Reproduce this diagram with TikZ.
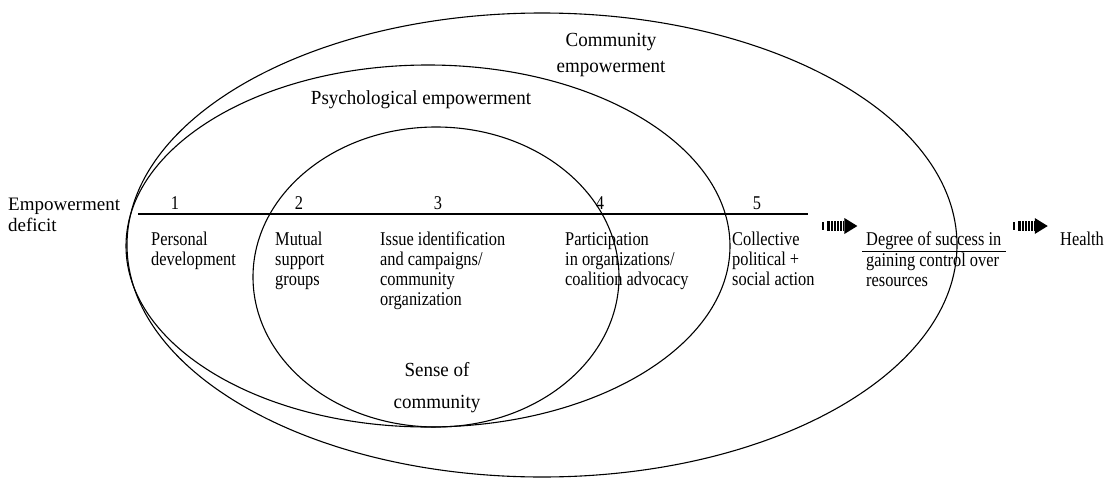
\documentclass[tikz,border=0pt]{standalone}
\usepackage{fontspec}
\setmainfont{Liberation Serif}
\newfontfamily\narrowserif[FakeStretch=0.84]{Liberation Serif}
\newfontfamily\labelserif[FakeStretch=0.95]{Liberation Serif}
\begin{document}
\begin{tikzpicture}[x=1pt,y=-1pt,
  ring/.style={line width=1.1pt},
  lbl/.style={font=\labelserif\fontsize{20}{26}\selectfont, inner sep=0pt, align=center},
  txt/.style={font=\narrowserif\fontsize{19.5}{20}\selectfont, align=left, anchor=north west, inner sep=0pt},
  num/.style={font=\narrowserif\fontsize{19.5}{20}\selectfont, inner sep=0pt},
  barrow/.pic={
    \fill (-18,-4) rectangle (-16,4);
    \fill (-13,-5) rectangle (4,5);
    \foreach \s in {-10,-7,-4,-1,2}
      \draw[white, line width=0.5pt] (\s,-5) -- (\s,5);
    \fill (4,-8) -- (17,0) -- (4,8) -- cycle;
  },
]
\useasboundingbox (0,0) rectangle (1106,482);

% nested empowerment regions
\draw[ring] (542,245) ellipse [x radius=415pt, y radius=232pt];
\draw[ring] (428,246) ellipse [x radius=302pt, y radius=181pt];
\draw[ring] (436,277) ellipse [x radius=183pt, y radius=150pt];

% region labels
\node[lbl] (comm) at (611,55) {Community\\empowerment};
\node[lbl] (psych) at (421,100) {Psychological empowerment};
\node[lbl, font=\labelserif\fontsize{20}{32}\selectfont] (sense) at (437,388) {Sense of\\community};

% starting point and the continuum line
\node[lbl, align=left, anchor=west, font=\fontsize{19}{21}\selectfont] (deficit) at (8,215) {Empowerment\\deficit};
\coordinate (lstart) at (138,214);
\coordinate (lend) at (808,214);
\draw[line width=1.3pt] (lstart) -- (lend);

% stage numbers
\node[num] (n1) at (175,203) {1};
\node[num] (n2) at (299,203) {2};
\node[num] (n3) at (438,203) {3};
\node[num] (n4) at (600,203) {4};
\node[num] (n5) at (757,203) {5};

% stages
\node[txt] (s1) at (151,232) {Personal\\development};
\node[txt] (s2) at (275,232) {Mutual\\support\\groups};
\node[txt] (s3) at (380,232) {Issue identification\\and campaigns/\\community\\organization};
\node[txt] (s4) at (565,232) {Participation\\in organizations/\\coalition advocacy};
\node[txt] (s5) at (732,232) {Collective\\political +\\social action};

% outcomes
\node[txt] (deg) at (866,232) {Degree of success in};
\draw[line width=1pt] ([shift={(-4,1)}]deg.south west) -- ([shift={(5,1)}]deg.south east);
\node[txt] (gain) at (866,253) {gaining control over\\resources};
\node[txt] (health) at (1060,232) {Health};

% block arrows between the outcome steps
\path (s5.north east) -- (deg.north west) coordinate[pos=0.5] (a1);
\pic at ([yshift=6]a1) {barrow};
\path (deg.north east) -- (health.north west) coordinate[pos=0.5] (a2);
\pic at ([yshift=6]a2) {barrow};
\end{tikzpicture}
\end{document}
